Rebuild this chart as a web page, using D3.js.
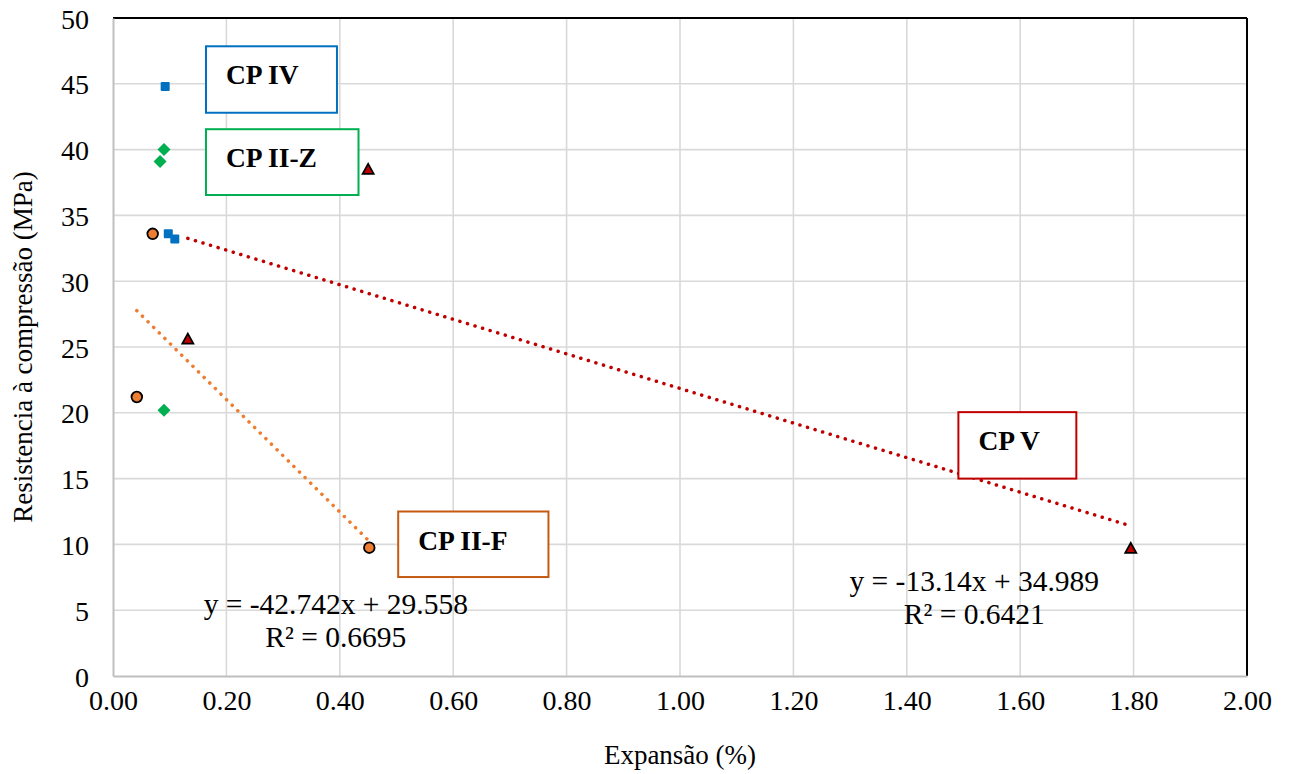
<!DOCTYPE html>
<html>
<head>
<meta charset="utf-8">
<script src="https://cdn.jsdelivr.net/npm/d3@7"></script>
<style>
  body { margin: 0; background: #fff; }
  svg text { font-family: "Liberation Serif", "Times New Roman", serif; }
</style>
</head>
<body>
<div id="app"></div>
<script>
var width = 1290;
var height = 774;

// data
var cpIV  = [[0.092, 44.8], [0.0975, 33.6], [0.109, 33.2]];
var cpIIZ = [[0.090, 40.0], [0.083, 39.1], [0.090, 20.2]];
var cpIIF = [[0.070, 33.6], [0.042, 21.2], [0.452, 9.75]];
var cpV   = [[0.450, 38.5], [0.132, 25.6], [1.795, 9.7]];

// trendlines: slope, intercept
var trendIIF = [-42.742, 29.558];
var trendV = [-13.14, 34.989];

var xTicks = [0, 0.2, 0.4, 0.6, 0.8, 1.0, 1.2, 1.4, 1.6, 1.8, 2.0];
var yTicks = [0, 5, 10, 15, 20, 25, 30, 35, 40, 45, 50];

// label boxes [x0, x1, yTop, yBottom] in data units
var labels = [
  {text: "CP IV",   color: "#0070C0", box: [0.164, 0.395, 47.85, 42.8]},
  {text: "CP II-Z", color: "#00B050", box: [0.164, 0.433, 41.55, 36.55]},
  {text: "CP V",    color: "#C00000", box: [1.491, 1.699, 20.05, 15.0]},
  {text: "CP II-F", color: "#C55A11", box: [0.503, 0.768, 12.5, 7.52]}
];

var serif = "'Liberation Serif', 'Times New Roman', serif";

var margin = {top: 18, right: 43, bottom: 98, left: 113};
var innerW = width - margin.left - margin.right;
var innerH = height - margin.top - margin.bottom;

var svg = d3.select("#app").append("svg")
  .attr("width", width)
  .attr("height", height)
  .attr("font-family", serif);

var g = svg.append("g")
  .attr("transform", "translate(" + margin.left + "," + margin.top + ")");

var x = d3.scaleLinear().domain([0, 2]).range([0, innerW]);
var y = d3.scaleLinear().domain([0, 50]).range([innerH, 0]);

// grid
g.append("g").selectAll("line").data(xTicks.slice(1, -1)).enter().append("line")
  .attr("x1", d => x(d)).attr("x2", d => x(d))
  .attr("y1", 0).attr("y2", innerH)
  .attr("stroke", "#d9d9d9").attr("stroke-width", 1.6);
g.append("g").selectAll("line").data(yTicks.slice(1, -1)).enter().append("line")
  .attr("x1", 0).attr("x2", innerW)
  .attr("y1", d => y(d)).attr("y2", d => y(d))
  .attr("stroke", "#d9d9d9").attr("stroke-width", 1.6);

// frame
g.append("line").attr("x1", 0).attr("x2", innerW).attr("y1", 0).attr("y2", 0)
  .attr("stroke", "#000").attr("stroke-width", 2);
g.append("line").attr("x1", innerW).attr("x2", innerW).attr("y1", 0).attr("y2", innerH)
  .attr("stroke", "#000").attr("stroke-width", 2);

// axes
var xAxis = g.append("g")
  .attr("transform", "translate(0," + innerH + ")")
  .call(d3.axisBottom(x).tickValues(xTicks).tickFormat(d3.format(".2f")).tickSize(0).tickPadding(14));
var yAxis = g.append("g")
  .call(d3.axisLeft(y).tickValues(yTicks).tickSize(0).tickPadding(24));
[xAxis, yAxis].forEach(function(a) {
  a.attr("font-family", serif).attr("font-size", 28);
  a.select(".domain").attr("stroke", "#bfbfbf").attr("stroke-width", 2);
  a.selectAll("text").attr("fill", "#000");
});
yAxis.selectAll("text").attr("dy", "0.36em");

// axis titles
svg.append("text")
  .attr("x", margin.left + innerW / 2).attr("y", 764)
  .attr("text-anchor", "middle").attr("font-size", 27)
  .text("Expansão (%)");
svg.append("text")
  .attr("transform", "translate(32," + (margin.top + innerH / 2) + ") rotate(-90)")
  .attr("text-anchor", "middle").attr("font-size", 27)
  .text("Resistencia à compressão (MPa)");

// trendlines
function trend(data, coef, color) {
  var xs = d3.extent(data, d => d[0]);
  g.append("line")
    .attr("x1", x(xs[0])).attr("y1", y(coef[0] * xs[0] + coef[1]))
    .attr("x2", x(xs[1])).attr("y2", y(coef[0] * xs[1] + coef[1]))
    .attr("stroke", color).attr("stroke-width", 3.5)
    .attr("stroke-linecap", "round")
    .attr("stroke-dasharray", "0.1 7.8");
}
trend(cpIIF, trendIIF, "#ED7D31");
trend(cpV, trendV, "#C00000");

// equations
function equation(lines, cx, yb) {
  lines.forEach(function(t, i) {
    g.append("text")
      .attr("x", cx).attr("y", yb + i * 33)
      .attr("text-anchor", "middle").attr("font-size", 29.5)
      .text(t);
  });
}
equation(["y = -42.742x + 29.558", "R² = 0.6695"], x(0.393), y(4.73));
equation(["y = -13.14x + 34.989", "R² = 0.6421"], x(1.519), y(6.49));

// label boxes
labels.forEach(function(l) {
  g.append("rect")
    .attr("x", x(l.box[0])).attr("y", y(l.box[2]))
    .attr("width", x(l.box[1]) - x(l.box[0]))
    .attr("height", y(l.box[3]) - y(l.box[2]))
    .attr("fill", "#fff").attr("stroke", l.color).attr("stroke-width", 2);
  g.append("text")
    .attr("x", x(l.box[0]) + 20).attr("y", y(l.box[2]) + 38)
    .attr("font-size", 27.5).attr("font-weight", "bold")
    .text(l.text);
});

// markers
g.append("g").selectAll("rect").data(cpIV).enter().append("rect")
  .attr("x", d => x(d[0]) - 4.5).attr("y", d => y(d[1]) - 4.5)
  .attr("width", 9).attr("height", 9).attr("rx", 1)
  .attr("fill", "#0070C0");

g.append("g").selectAll("path").data(cpIIZ).enter().append("path")
  .attr("transform", d => "translate(" + x(d[0]) + "," + y(d[1]) + ")")
  .attr("d", "M0,-6.5L6.5,0L0,6.5L-6.5,0Z")
  .attr("fill", "#00B050");

g.append("g").selectAll("circle").data(cpIIF).enter().append("circle")
  .attr("cx", d => x(d[0])).attr("cy", d => y(d[1])).attr("r", 5.3)
  .attr("fill", "#ED7D31").attr("stroke", "#000").attr("stroke-width", 1.8);

g.append("g").selectAll("path").data(cpV).enter().append("path")
  .attr("transform", d => "translate(" + x(d[0]) + "," + y(d[1]) + ")")
  .attr("d", "M0,-5.5L5.5,4.5L-5.5,4.5Z")
  .attr("fill", "#C00000").attr("stroke", "#000").attr("stroke-width", 1.8)
  .attr("stroke-linejoin", "miter");
</script>
</body>
</html>
